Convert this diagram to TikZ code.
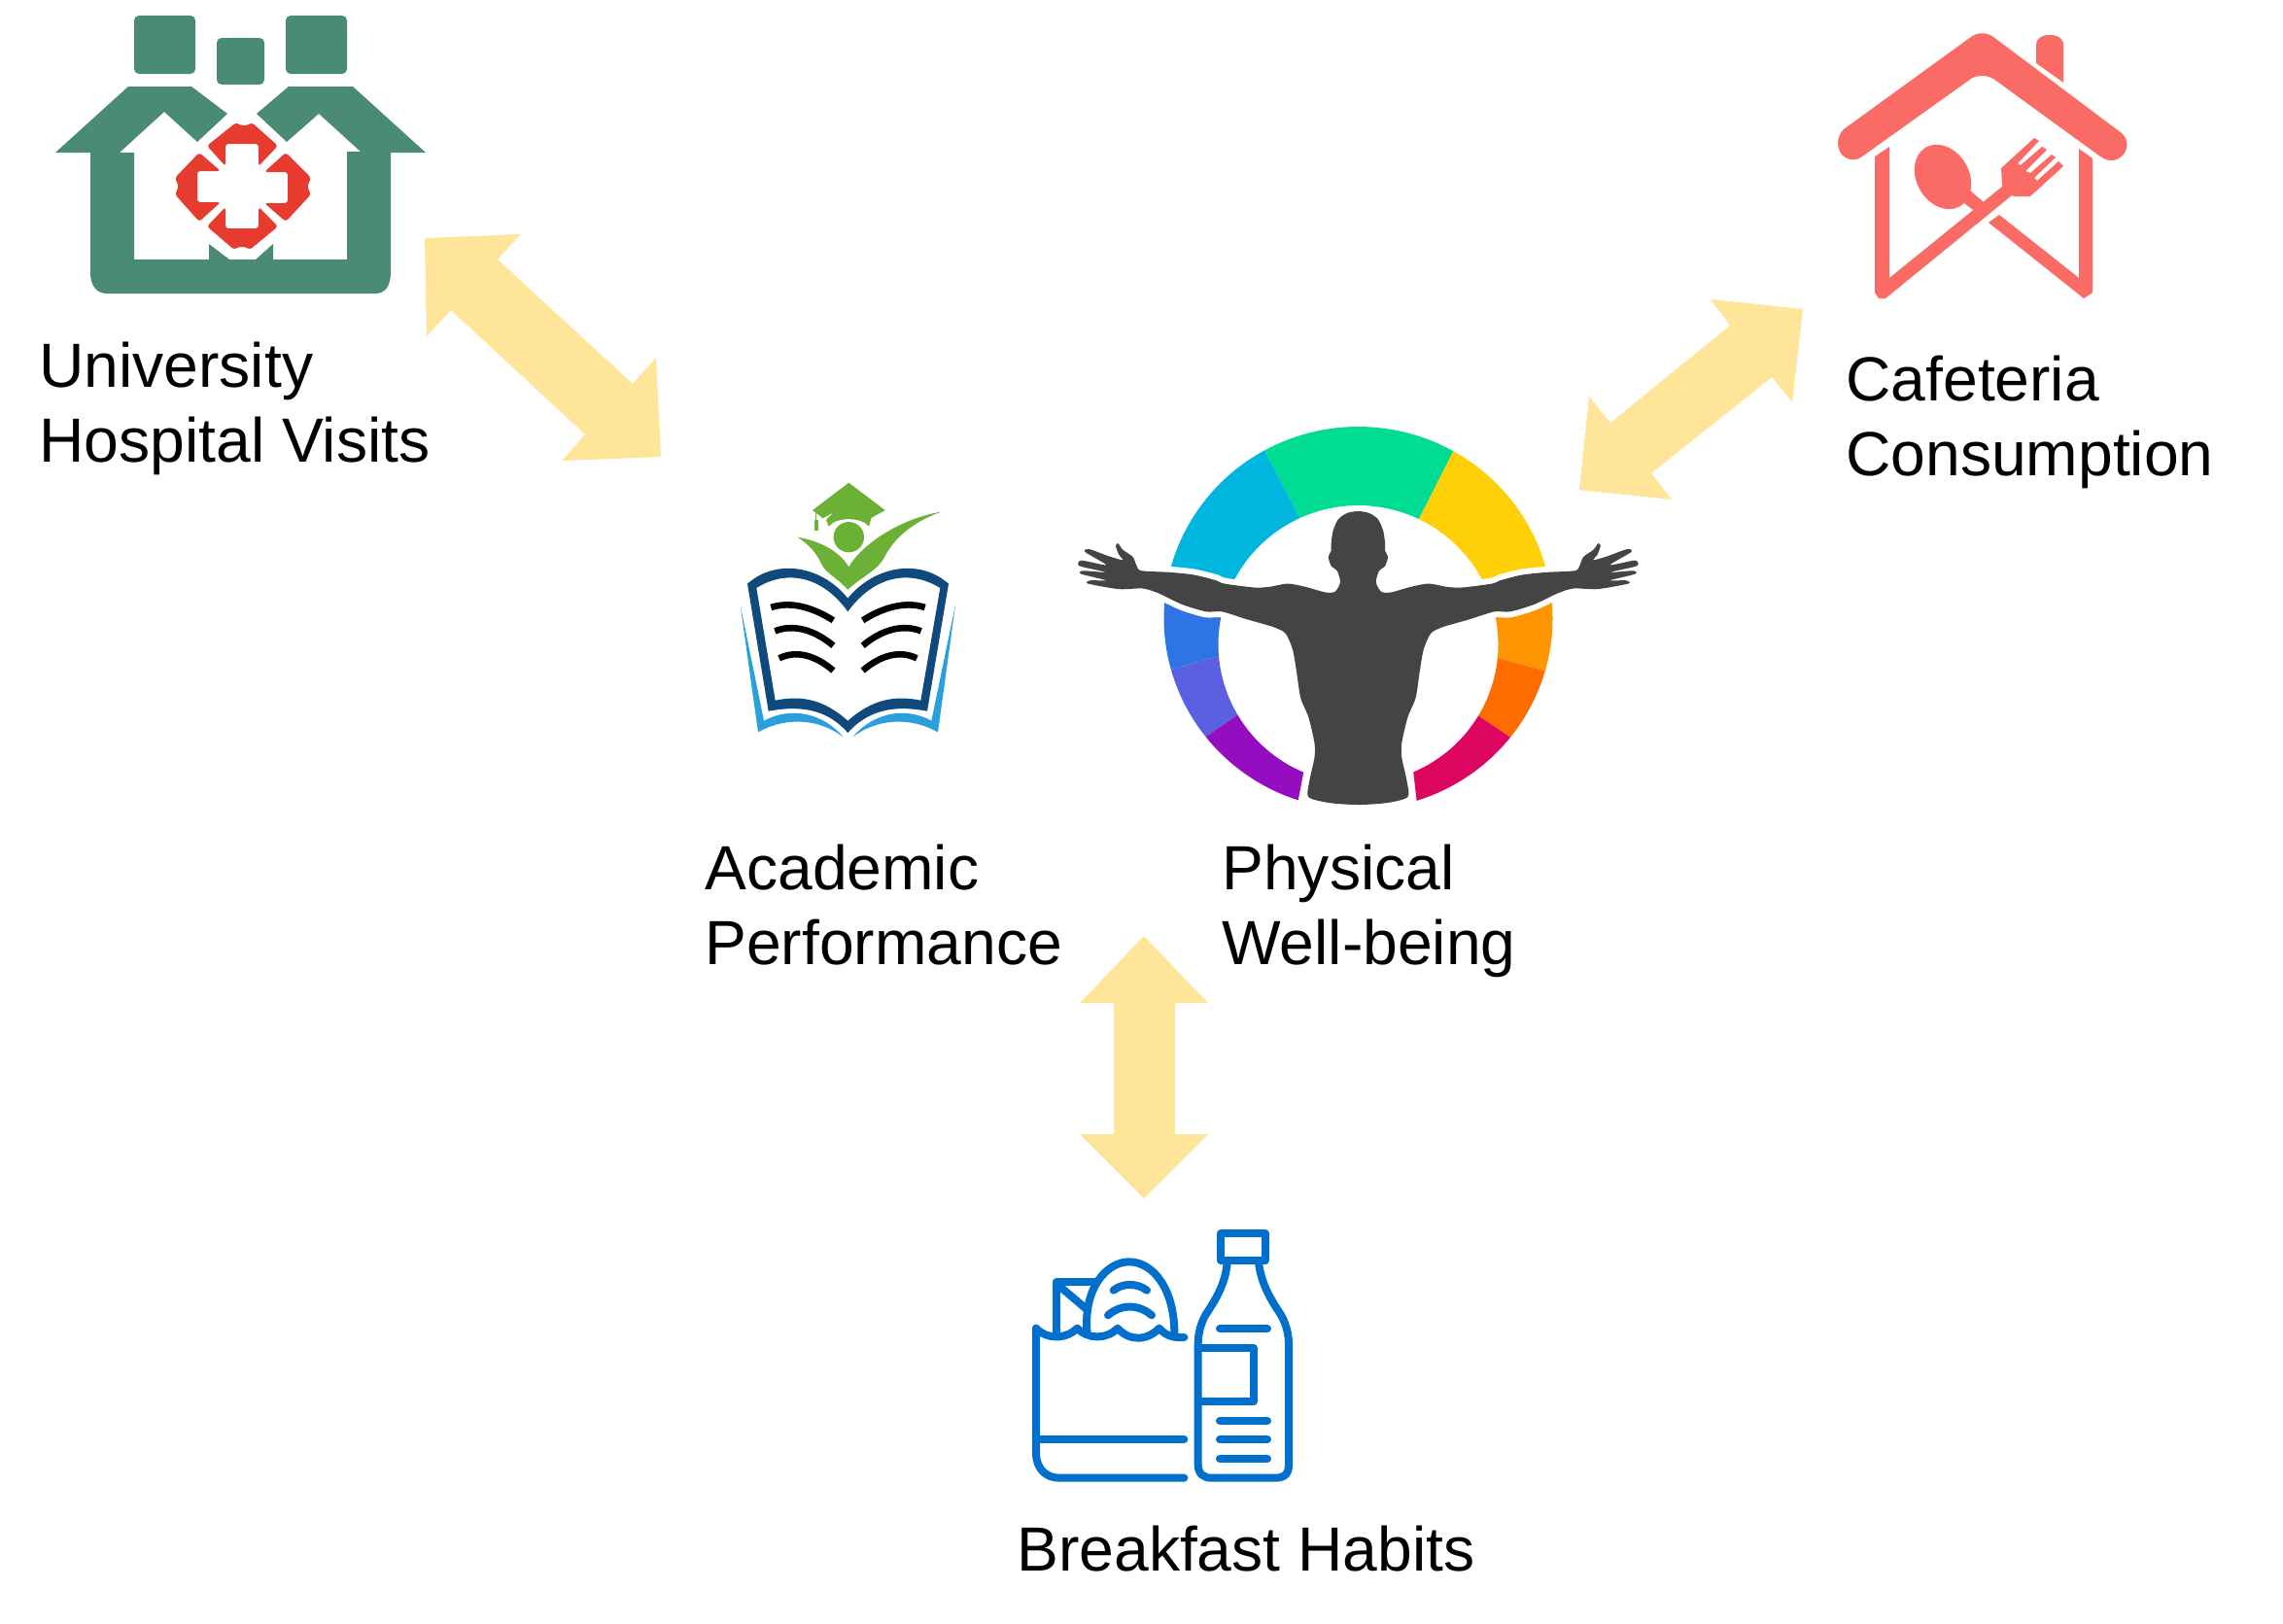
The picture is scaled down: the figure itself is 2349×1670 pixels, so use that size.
\documentclass[tikz,border=0pt]{standalone}
\usepackage{fontspec}
\setmainfont{Liberation Sans}
\definecolor{arrowy}{HTML}{FFE599}
\definecolor{hosp}{HTML}{4A8B73}
\definecolor{hospred}{HTML}{E63B2E}
\definecolor{cafe}{HTML}{FA6B65}
\definecolor{bookdark}{HTML}{104A7D}
\definecolor{booklight}{HTML}{2A9FDD}
\definecolor{bookgreen}{HTML}{6BB136}
\definecolor{humandark}{HTML}{444444}
\definecolor{bagblue}{HTML}{0070CC}
\definecolor{rcyan}{HTML}{00B6DE}
\definecolor{rgreen}{HTML}{00DC94}
\definecolor{ryellow}{HTML}{FFCF08}
\definecolor{rblue}{HTML}{2F74E4}
\definecolor{rperi}{HTML}{5B60E0}
\definecolor{rpurple}{HTML}{950DC0}
\definecolor{rorange}{HTML}{FF9500}
\definecolor{rdorange}{HTML}{FF6D00}
\definecolor{rcrimson}{HTML}{DC0560}
\tikzset{
  blockarrow/.style={fill=arrowy},
  labeltext/.style={anchor=north west,inner sep=0pt,align=left,font=\fontsize{32.1}{38.5}\selectfont},
  bagline/.style={draw=bagblue,line width=4pt,line cap=round,line join=round},
  pageline/.style={draw=black,line width=3.3pt}
}
\newcommand{\ringseg}[5]{\fill[#5] plot[domain=#1:#2,samples=30] ({1397.5+200*cos(\x)},{636-197*sin(\x)}) -- plot[domain=#4:#3,samples=30] ({1397.5+144*cos(\x)},{663-143*sin(\x)}) -- cycle;}
\begin{document}
\begin{tikzpicture}[x=0.5pt,y=-0.5pt]
\useasboundingbox (0,0) rectangle (2349,1670);
\fill[white] (0,0) rectangle (2349,1670);

% block arrows
\fill[blockarrow] (437,245)--(536,241)--(512,267)--(651,395)--(675,368)--(680,470)--(578,474)--(602,447)--(464,319)--(439,346)--cycle;
\fill[blockarrow] (1855,318)--(1760,308)--(1780,335)--(1657,435)--(1635,408)--(1625,504)--(1720,514)--(1699,487)--(1823,388)--(1844,414)--cycle;
\fill[blockarrow] (1177,963)--(1243,1032)--(1209,1032)--(1209,1167)--(1243,1167)--(1177,1233)--(1111,1167)--(1146,1167)--(1146,1032)--(1111,1032)--cycle;

% hospital icon
\fill[hosp,rounded corners=2.5pt] (138,16) rectangle (201,76);
\fill[hosp,rounded corners=2.5pt] (223,39) rectangle (272,87);
\fill[hosp,rounded corners=2.5pt] (294,16) rectangle (357,76);
\fill[hosp] (57,157)--(93,157)--(93,280) .. controls (93,295) and (100,302) .. (110,302)--(386,302) .. controls (396,302) and (402,295) .. (402,280)--(402,157)--(438,157)--(363,89)--(297,89)--(264,117)--(295,146)--(328,117)--(371,156)--(357,156)--(357,267)--(281,267)--(281,251)--(263,267)--(236,267)--(215,251)--(215,267)--(138,267)--(138,157)--(123,157)--(169,115)--(203,146)--(234,117)--(197,89)--(132,89)--cycle;
\begin{scope}[hospred,rounded corners=1.5pt]
\fill (243,126)--(247,129)--(255,129)--(259,126)--(286,150)--(266,171)--(266,148)--(232,148)--(232,171)--(213,150)--cycle;
\fill (213,233)--(232,213)--(232,235)--(266,235)--(266,213)--(286,233)--(257,257)--(253,254)--(245,254)--(241,257)--cycle;
\fill (205,157)--(227,176)--(203,176)--(203,208)--(227,208)--(205,228)--(180,200)--(184,192)--(180,183)--cycle;
\fill (294,157)--(272,177)--(296,177)--(296,209)--(272,209)--(294,228)--(320,200)--(316,192)--(320,183)--cycle;
\end{scope}

% cafeteria icon
\begin{scope}[shift={(-3,0)}]
\fill[cafe] (1900,133)--(2031,38) .. controls (2038,33) and (2047,33) .. (2054,38)--(2186,137) .. controls (2195,145) and (2192,158) .. (2183,163) .. controls (2176,167) and (2170,165) .. (2164,161)--(2054,81) .. controls (2047,77) and (2037,77) .. (2031,81)--(1919,161) .. controls (1912,166) and (1904,165) .. (1898,159) .. controls (1892,151) and (1893,140) .. (1900,133)--cycle;
\fill[cafe] (2098,65)--(2098,47) .. controls (2098,39) and (2104,36) .. (2112,36) .. controls (2120,36) and (2126,39) .. (2126,47)--(2126,85)--cycle;
\fill[cafe] (1932,161)--(1947,151)--(1947,286)--(2063,192)--(2062,173)--(2096,142)--(2101,145)--(2079,168)--(2082,170)--(2104,151)--(2109,154)--(2087,176)--(2092,178)--(2114,159)--(2118,162)--(2096,183)--(2099,186)--(2121,166)--(2126,171)--(2092,202)--(2075,202)--(2073,201)--(1943,307)--(1936,307)--(1932,301)--cycle;
\fill[cafe] (2142,153)--(2156,163)--(2156,301)--(2147,307)--(2049,229)--(2060,221)--(2142,286)--cycle;
\fill[cafe] (2020,206)--(2033,216)--(2044,208)--(2030,196)--cycle;
\end{scope}
\begin{scope}[shift={(1999,182)},rotate=-60]
\fill[cafe] (0,0) ellipse [x radius=35,y radius=27];
\end{scope}

% book icon
\begin{scope}[shift={(700,470)},x=0.16667pt,y=-0.16667pt]
\fill[booklight] (185,457)--(240,850) .. controls (330,800) and (430,810) .. (503,865) .. controls (440,790) and (340,770) .. (258,815)--cycle;
\fill[booklight] (849,457)--(795,850) .. controls (705,800) and (605,810) .. (532,865) .. controls (595,790) and (695,770) .. (775,815)--cycle;
\fill[bookdark,even odd rule] (207,392) .. controls (300,310) and (440,340) .. (517,437) .. controls (595,340) and (735,310) .. (828,392)--(762,785) .. controls (680,770) and (590,770) .. (517,852) .. controls (445,770) and (355,770) .. (272,785)--cycle
 (235,405) .. controls (330,345) and (440,370) .. (517,478) .. controls (595,370) and (705,345) .. (802,405)--(742,752) .. controls (660,735) and (590,750) .. (517,815) .. controls (445,750) and (375,735) .. (293,752)--cycle;
\draw[pageline] (280,465) .. controls (340,445) and (410,465) .. (472,505);
\draw[pageline] (292,538) .. controls (350,515) and (415,535) .. (472,583);
\draw[pageline] (305,622) .. controls (360,595) and (420,615) .. (472,660);
\draw[pageline] (755,465) .. controls (695,445) and (625,465) .. (563,505);
\draw[pageline] (743,538) .. controls (685,515) and (620,535) .. (563,583);
\draw[pageline] (730,622) .. controls (675,595) and (615,615) .. (563,660);
\fill[bookgreen] (362,248) .. controls (430,260) and (490,290) .. (520,340) .. controls (560,270) and (680,190) .. (805,170) .. controls (720,200) and (660,250) .. (630,310) .. controls (610,350) and (560,370) .. (517,410) .. controls (480,370) and (450,360) .. (435,330) .. controls (420,295) and (395,270) .. (362,248)--cycle;
\fill[bookgreen] (520,248) circle [radius=47];
\fill[bookgreen] (408,165)--(520,80)--(632,165)--(590,188)--(582,215) .. controls (560,185) and (480,185) .. (458,215)--(450,195)--(472,172)--(440,190)--cycle;
\fill[bookgreen] (416,175) rectangle (421,200);
\fill[bookgreen] (413,195) rectangle (425,228);
\end{scope}

% physical well-being icon
\ringseg{118.8}{171}{114.6}{160}{rcyan}
\ringseg{60.7}{118.8}{64.3}{114.6}{rgreen}
\ringseg{9}{60.7}{20}{64.3}{ryellow}
\ringseg{171}{195.6}{160}{184.8}{rblue}
\ringseg{195.6}{218.3}{184.8}{210.5}{rperi}
\ringseg{218.3}{252}{210.5}{247}{rpurple}
\ringseg{-16}{9}{-5.6}{20}{rorange}
\ringseg{-38.5}{-16}{-30.9}{-5.6}{rdorange}
\ringseg{-72.5}{-38.5}{-66.8}{-30.9}{rcrimson}
\begin{scope}[shift={(1090,420)},x=0.2041pt,y=-0.1656pt]
\fill[humandark,line join=round,preaction={draw=white,line width=6pt}] plot[smooth cycle,tension=.45] coordinates {
(753,320)(725,326)(703,345)(690,380)(685,420)(685,443)(678,462)(685,490)(700,505)(708,540)(695,570)(670,572)(620,555)(575,545)(530,555)(490,557)(415,545)(395,535)(340,518)(280,510)(207,505)(195,490)(185,462)(160,440)(148,420)(142,428)(150,455)(160,472)(125,460)(75,438)(65,447)(118,487)(57,473)(47,483)(55,492)(118,510)(60,505)(55,515)(118,535)(78,535)(72,545)(150,562)(210,560)(250,575)(310,610)(370,632)(410,632)(470,655)(540,680)(570,700)(588,750)(598,820)(608,900)(628,960)(643,1040)(643,1085)(630,1160)(628,1208)(680,1226)(753,1232)
(826,1226)(878,1208)(876,1160)(863,1085)(863,1040)(878,960)(898,900)(908,820)(918,750)(936,700)(966,680)(1036,655)(1096,632)(1136,632)(1196,610)(1256,575)(1296,560)(1356,562)(1434,545)(1428,535)(1388,535)(1451,515)(1446,505)(1388,510)(1451,492)(1459,483)(1449,473)(1388,487)(1441,447)(1431,438)(1381,460)(1346,472)(1356,455)(1364,428)(1358,420)(1346,440)(1321,462)(1311,490)(1299,505)(1226,510)(1166,518)(1111,535)(1091,545)(1016,557)(976,555)(931,545)(886,555)(836,572)(811,570)(798,540)(806,505)(821,490)(828,462)(821,443)(821,420)(816,380)(803,345)(781,326)};
\end{scope}

% bag and bottle icon
\begin{scope}[shift={(1040,1250)},x=0.16667pt,y=-0.16667pt]
\draw[bagline] (535,378) .. controls (505,380) and (480,375) .. (458,350) .. controls (420,390) and (365,390) .. (330,350) .. controls (295,385) and (240,385) .. (205,350) .. controls (170,385) and (110,385) .. (78,350)--(78,735) .. controls (78,785) and (110,812) .. (150,812)--(535,812);
\draw[bagline] (80,693)--(535,693);
\draw[bagline] (140,365)--(140,208)--(265,208);
\draw[bagline] (150,220)--(235,292);
\draw[bagline] (235,360) .. controls (225,220) and (300,145) .. (365,145) .. controls (440,145) and (505,230) .. (505,365);
\draw[bagline] (317,233) .. controls (345,210) and (390,210) .. (420,233);
\draw[bagline] (300,310) .. controls (340,275) and (395,275) .. (435,310);
\draw[bagline] (648,58) rectangle (785,142);
\draw[bagline] (668,145) .. controls (665,200) and (640,250) .. (610,295) .. controls (585,330) and (578,370) .. (578,400)--(578,770) .. controls (578,800) and (595,812) .. (620,812)--(815,812) .. controls (845,812) and (858,800) .. (858,770)--(858,400) .. controls (858,370) and (850,330) .. (825,295) .. controls (795,250) and (770,200) .. (765,145);
\draw[bagline] (578,412)--(750,412)--(750,577)--(578,577);
\draw[bagline] (645,352)--(792,352);
\draw[bagline] (645,635)--(792,635);
\draw[bagline] (645,693)--(792,693);
\draw[bagline] (645,753)--(792,753);
\end{scope}

% labels
\node[labeltext] (hospitallabel) at (40,351.5) {University\\Hospital Visits};
\node[labeltext] (cafelabel) at (1899,366) {Cafeteria\\Consumption};
\node[labeltext] (academiclabel) at (725,869) {Academic\\Performance};
\node[labeltext] (physicallabel) at (1257,869) {Physical\\Well-being};
\node[labeltext] (breakfastlabel) at (1046,1570) {Breakfast Habits};
\end{tikzpicture}
\end{document}
